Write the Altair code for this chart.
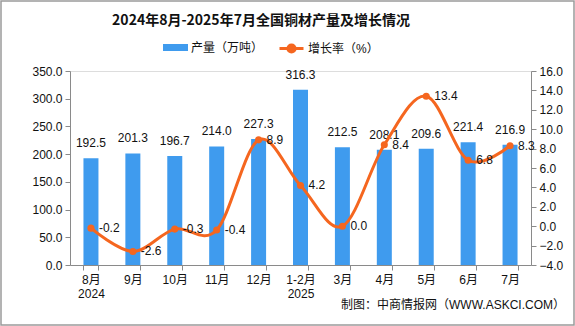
import altair as alt
import pandas as pd

months = ["8月", "9月", "10月", "11月", "12月", "1-2月", "3月", "4月", "5月", "6月", "7月"]
output = [192.5, 201.3, 196.7, 214.0, 227.3, 316.3, 212.5, 208.1, 209.6, 221.4, 216.9]
growth = [-0.2, -2.6, -0.3, -0.4, 8.9, 4.2, 0.0, 8.4, 13.4, 6.8, 8.3]
year_marks = {"8月": "2024", "1-2月": "2025"}
left_ticks = [0, 50, 100, 150, 200, 250, 300, 350]
right_ticks = [-4, -2, 0, 2, 4, 6, 8, 10, 12, 14, 16]
title_text = "2024年8月-2025年7月全国铜材产量及增长情况"
source_text = "制图：中商情报网（WWW.ASKCI.COM）"

S1 = "产量（万吨）"
S2 = "增长率（%）"
BLUE = "#3F9BEE"
ORANGE = "#F5661F"
FONT = "Liberation Sans, Noto Sans CJK SC"
GRAY = "#8a8a8a"

df = pd.DataFrame({"month": months, "output": output, "growth": growth})
df["s1"] = S1
df["s2"] = S2
df["glabel"] = [f"{v:.1f}" for v in growth]
df["olabel"] = [f"{v:.1f}" for v in output]

expr = "datum.value"
for m, y in reversed(list(year_marks.items())):
    expr = f"(datum.value == '{m}' ? ['{m}', '{y}'] : {expr})"

x_enc = alt.X(
    "month:N",
    sort=months,
    title=None,
    scale=alt.Scale(paddingInner=0.64, paddingOuter=0.32),
    axis=alt.Axis(
        labelAngle=0, tickBand="extent", tickSize=5, labelPadding=4,
        labelExpr=expr, labelLineHeight=14, labelFontSize=12, labelFont=FONT,
        labelColor="#111", domainColor=GRAY, tickColor=GRAY,
    ),
)


def y_axis(orient, values):
    return alt.Axis(
        orient=orient, values=values, tickCount=len(values), format=".1f", grid=False,
        tickSize=5, labelFontSize=12, labelFont=FONT, labelColor="#111",
        labelOverlap=False, labelFlush=False, domainColor=GRAY, tickColor=GRAY,
        labelPadding=3,
    )


y1 = alt.Y("output:Q", title=None, scale=alt.Scale(domain=[0, 350], nice=False),
           axis=y_axis("left", left_ticks))
y2 = alt.Y("growth:Q", title=None, scale=alt.Scale(domain=[-4, 16], nice=False),
           axis=y_axis("right", right_ticks))

base = alt.Chart(df)

bars = base.mark_bar(size=15).encode(
    x=x_enc,
    y=y1,
    fill=alt.Fill(
        "s1:N",
        scale=alt.Scale(domain=[S1], range=[BLUE]),
        legend=alt.Legend(
            title=None, orient="none", legendX=93, legendY=-36,
            symbolType="M-1,-0.28H1V0.28H-1Z", symbolSize=625, symbolStrokeWidth=0,
            labelFontSize=12, labelFont=FONT, labelColor="#111", labelOffset=3,
        ),
    ),
)

bar_text = base.mark_text(dy=-8, baseline="bottom", fontSize=12, font=FONT, color="#111").encode(
    x=x_enc,
    y=y1,
    text="olabel:N",
)

left = alt.layer(bars, bar_text)

line = base.mark_line(interpolate="cardinal", strokeWidth=3).encode(
    x=x_enc,
    y=y2,
    stroke=alt.Stroke(
        "s2:N",
        scale=alt.Scale(domain=[S2], range=[ORANGE]),
        legend=alt.Legend(
            title=None, orient="none", legendX=208, legendY=-36,
            symbolType="M-1,0H1M-0.3,0A0.3,0.3,0,1,1,0.3,0A0.3,0.3,0,1,1,-0.3,0Z",
            symbolSize=576, symbolStrokeWidth=3, symbolFillColor=ORANGE,
            labelFontSize=12, labelFont=FONT, labelColor="#111", labelOffset=3,
        ),
    ),
)

points = base.mark_circle(size=50, color=ORANGE, opacity=1).encode(
    x=x_enc,
    y=y2,
)

line_text = base.mark_text(dx=8, align="left", baseline="middle", fontSize=12, font=FONT, color="#111").encode(
    x=x_enc,
    y=y2,
    text="glabel:N",
)

right = alt.layer(line, points, line_text)

title = alt.Chart(pd.DataFrame({"t": [title_text]})).mark_text(
    align="center", baseline="middle", fontSize=14, fontWeight="bold",
    font="Noto Sans CJK SC", color="#111"
).encode(x=alt.value(191), y=alt.value(-50), text="t:N")

source = alt.Chart(pd.DataFrame({"t": [source_text]})).mark_text(
    align="right", baseline="middle", fontSize=12, font=FONT, color="#111"
).encode(x=alt.value(495), y=alt.value(234), text="t:N")

border = alt.Chart(pd.DataFrame({"t": [1]})).mark_rect(
    fill=None, stroke="#9a9a9a", strokeWidth=1.5
).encode(x=alt.value(-69), x2=alt.value(504), y=alt.value(-70), y2=alt.value(254))

chart = alt.layer(left, right, title, source, border).resolve_scale(
    y="independent"
).properties(
    width=461,
    height=194,
    padding={"left": 70, "top": 71, "right": 44, "bottom": 61},
    autosize=alt.AutoSizeParams(type="none"),
).configure_view(stroke=None).configure(background="white")

chart.save("out.html", embed_options={"renderer": "svg", "actions": False})
